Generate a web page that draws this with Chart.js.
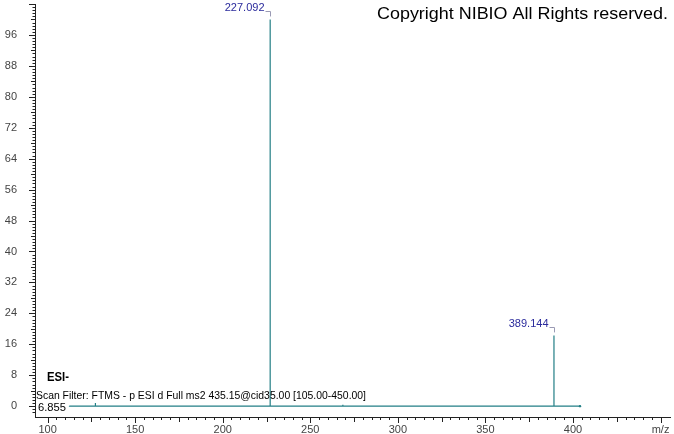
<!DOCTYPE html>
<html>
<head>
<meta charset="utf-8">
<script src="https://cdn.jsdelivr.net/npm/chart.js@4"></script>
<style>
  html, body { margin: 0; padding: 0; background: #fff; }
  #wrap { width: 674px; height: 434px; }
</style>
</head>
<body>
<div id="wrap"><canvas id="myChart" width="674" height="434"></canvas></div>
<script>
// stick spectrum (m/z, relative abundance)
const peakMz = [112.5, 127.3, 227.092, 268.6, 389.144, 404.0];
const peakIntensity = [0.1, 0.8, 100, 0.4, 18.3, 0.2];
const peakLabels = ['', '', '227.092', '', '389.144', ''];

// axes
const xMin = 92.8, xMax = 455.4;
const yMin = -2.8, yMax = 104;
const xLabelTicks = [100, 150, 200, 250, 300, 350, 400];
const xTitle = 'm/z';
const xTitleAt = 450;
const yLabelTicks = [0, 8, 16, 24, 32, 40, 48, 56, 64, 72, 80, 88, 96];

const copyright = 'Copyright NIBIO All Rights reserved.';
const ionMode = 'ESI-';
const scanFilter = 'Scan Filter: FTMS - p ESI d Full ms2 435.15@cid35.00 [105.00-450.00]';
const retTime = '6.855';

// build sticks from the arrays
const stickPoints = [];
for (let i = 0; i < peakMz.length; i++) {
    stickPoints.push({ x: peakMz[i], y: 0 });
    stickPoints.push({ x: peakMz[i], y: peakIntensity[i] });
    stickPoints.push({ x: peakMz[i], y: 0 });
}

function isMult(v, step) {
    return Math.abs(v / step - Math.round(v / step)) < 1e-6;
}
function near(a, b) {
    return Math.abs(a - b) < 1e-6;
}

function fitText(ctx, text, x, y, width) {
    const w = ctx.measureText(text).width;
    ctx.save();
    ctx.translate(x, y);
    ctx.scale(width / w, 1);
    ctx.fillText(text, 0, 0);
    ctx.restore();
}

const tickMarks = {
    id: 'tickMarks',
    afterDraw(chart) {
        const ctx = chart.ctx;
        const xs = chart.scales.x, ys = chart.scales.y;
        const area = chart.chartArea;
        ctx.save();
        ctx.strokeStyle = '#222';
        ctx.lineWidth = 1;
        ctx.beginPath();
        xs.ticks.forEach(t => {
            if (!isMult(t.value, 5)) return;
            const len = isMult(t.value, 50) ? 6 : (isMult(t.value, 25) ? 5 : 3);
            const px = Math.round(xs.getPixelForValue(t.value)) + 0.5;
            ctx.moveTo(px, area.bottom);
            ctx.lineTo(px, area.bottom + len);
        });
        ys.ticks.forEach(t => {
            if (!isMult(t.value, 0.8)) return;
            const len = isMult(t.value, 8) ? 6 : (isMult(t.value, 4) ? 4 : 2.5);
            const py = Math.round(ys.getPixelForValue(t.value)) + 0.5;
            ctx.moveTo(area.left, py);
            ctx.lineTo(area.left - len, py);
        });
        ctx.stroke();
        ctx.restore();
    }
};

const annotations = {
    id: 'annotations',
    afterDraw(chart) {
        const ctx = chart.ctx;
        const xs = chart.scales.x, ys = chart.scales.y;
        ctx.save();
        // peak labels with bracket
        ctx.font = '11px "Liberation Sans", Arial, sans-serif';
        ctx.textBaseline = 'middle';
        ctx.textAlign = 'right';
        for (let i = 0; i < peakMz.length; i++) {
            if (!peakLabels[i]) continue;
            const px = Math.round(xs.getPixelForValue(peakMz[i])) + 0.5;
            const top = ys.getPixelForValue(peakIntensity[i]);
            ctx.fillStyle = '#2a2a9c';
            ctx.fillText(peakLabels[i], px - 6, top - 11);
            ctx.strokeStyle = '#9a9ab4';
            ctx.lineWidth = 1;
            ctx.beginPath();
            ctx.moveTo(px - 5, Math.round(top - 8) + 0.5);
            ctx.lineTo(px, Math.round(top - 8) + 0.5);
            ctx.lineTo(px, top - 3);
            ctx.stroke();
        }
        // header / footer texts
        ctx.fillStyle = '#000';
        ctx.textAlign = 'left';
        ctx.font = '17px "Liberation Sans", Arial, sans-serif';
        fitText(ctx, copyright, 377, 14, 291);
        ctx.font = 'bold 12px "Liberation Sans", Arial, sans-serif';
        fitText(ctx, ionMode, 47, 378, 22);
        ctx.font = '11px "Liberation Sans", Arial, sans-serif';
        fitText(ctx, scanFilter, 36, 396, 330);
        fitText(ctx, retTime, 38, 408, 28);
        ctx.restore();
    }
};

const ctx = document.getElementById('myChart').getContext('2d');

const myChart = new Chart(ctx, {
    type: 'scatter',
    data: {
        datasets: [{
            data: stickPoints,
            showLine: true,
            borderColor: '#237f86',
            borderWidth: 1.2,
            tension: 0,
            pointRadius: c => c.dataIndex === stickPoints.length - 1 ? 1.2 : 0,
            pointBackgroundColor: '#237f86',
            pointBorderWidth: 0
        }]
    },
    options: {
        responsive: false,
        animation: false,
        layout: { padding: { left: 0, right: 2, top: 3, bottom: 0 } },
        plugins: {
            legend: { display: false },
            tooltip: { enabled: false }
        },
        scales: {
            x: {
                type: 'linear',
                min: xMin,
                max: xMax,
                grid: { display: false, drawTicks: false },
                border: { display: true, color: '#222', width: 1 },
                ticks: {
                    stepSize: 5,
                    autoSkip: false,
                    maxRotation: 0,
                    padding: 6,
                    color: '#444',
                    font: { family: '"Liberation Sans", Arial, sans-serif', size: 11 },
                    callback: v => {
                        if (near(v, xTitleAt)) return xTitle;
                        return xLabelTicks.some(t => near(v, t)) ? String(Math.round(v)) : '';
                    }
                },
                afterFit: s => { s.height = 17; s.paddingLeft = 0; s.paddingRight = 0; }
            },
            y: {
                min: yMin,
                max: yMax,
                grid: { display: false, drawTicks: false },
                border: { display: true, color: '#222', width: 1 },
                ticks: {
                    stepSize: 0.8,
                    autoSkip: false,
                    padding: 18,
                    color: '#444',
                    font: { family: '"Liberation Sans", Arial, sans-serif', size: 11 },
                    callback: v => yLabelTicks.some(t => near(v, t)) ? String(Math.round(v)) : ''
                },
                afterFit: s => { s.width = 35; s.paddingTop = 0; s.paddingBottom = 0; }
            }
        }
    },
    plugins: [tickMarks, annotations]
});
</script>
</body>
</html>
